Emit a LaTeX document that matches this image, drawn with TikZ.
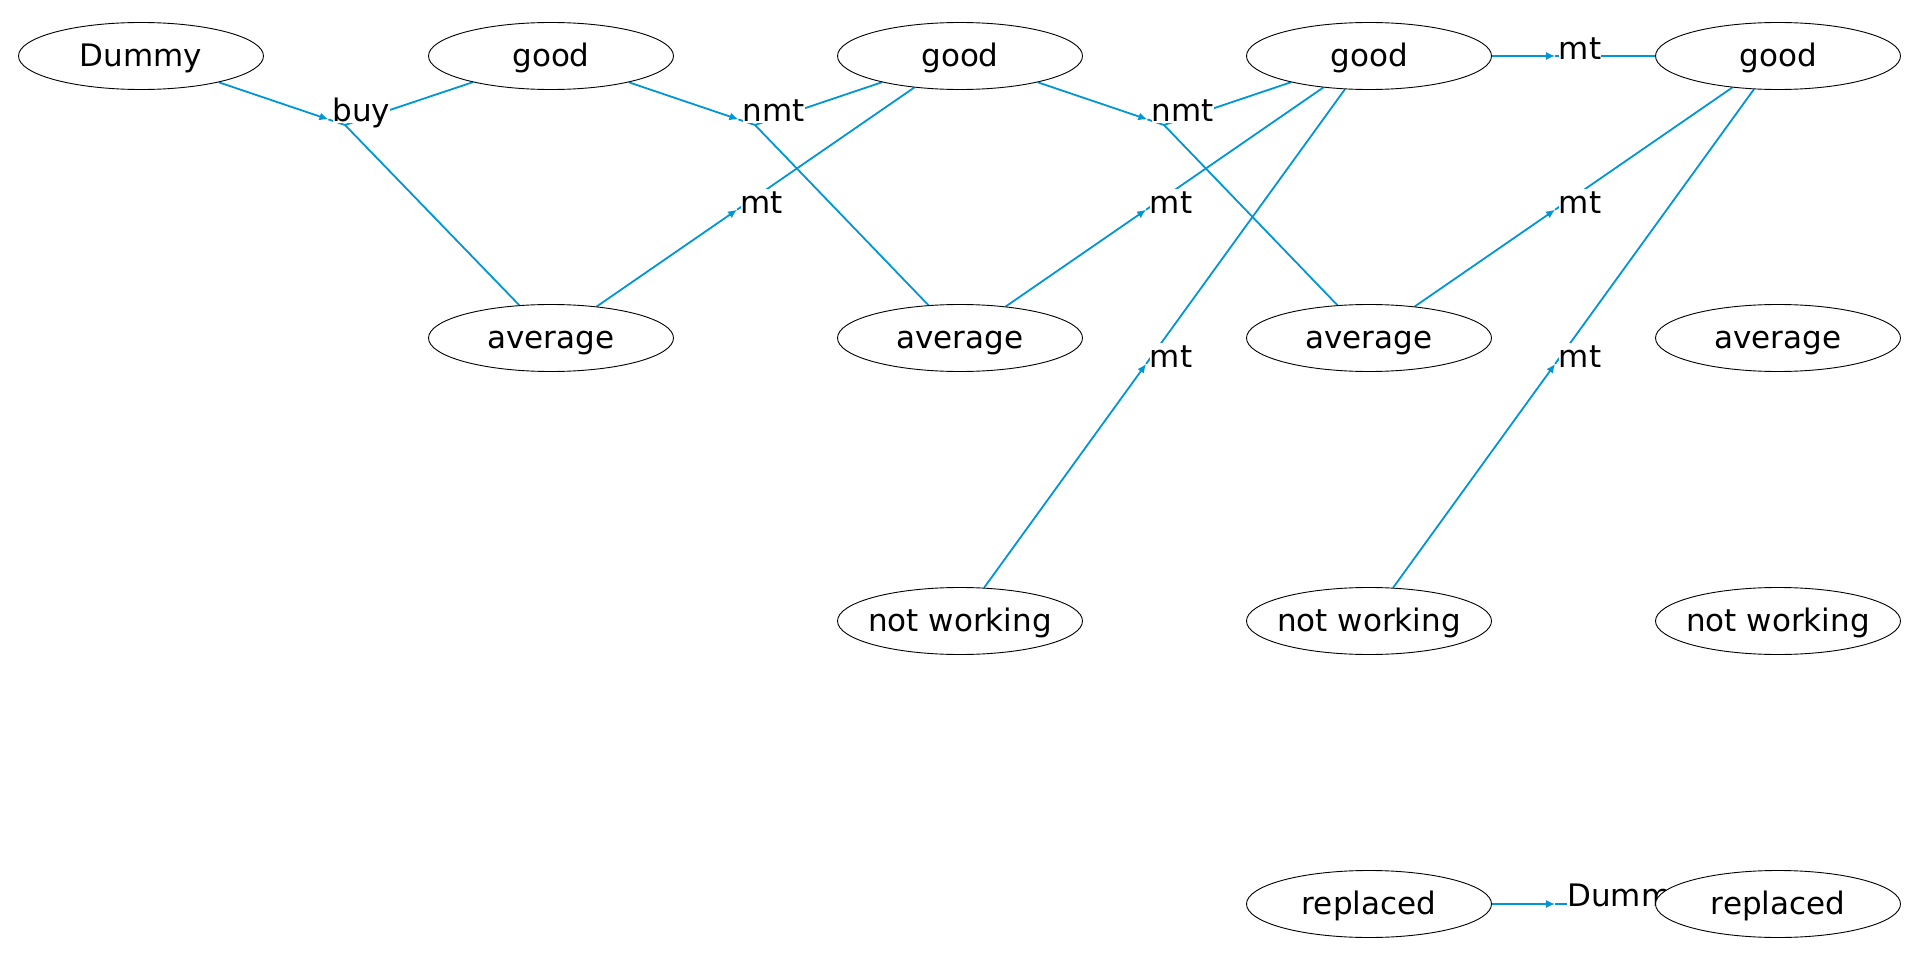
\documentclass[tikz,border=0pt]{standalone}
\usepackage{fontspec}
\setmainfont{DejaVu Sans}
\usetikzlibrary{calc,shapes.geometric,arrows.meta,backgrounds}
\definecolor{edgeblue}{RGB}{0,150,214}

% straight action edge: source, target, name of the arrow point, label, label offset
\newcommand\actedge[5]{%
  \coordinate (#3) at ($(#1)!0.455!(#2)$);
  \draw[arrowwire] (#1) -- (#3);
  \draw[wire] (#3) -- (#2);
  \node[act] (#3-lab) at ($(#3)+#5$) {#4};
}

\begin{document}
\begin{tikzpicture}[x=1pt,y=-1pt,
  state/.style={ellipse, draw=black, line width=0.9pt, fill=white,
    minimum width=245pt, minimum height=67pt, inner xsep=-12pt, inner ysep=0pt,
    text height=23pt, text depth=2pt,
    font=\fontsize{31}{37}\selectfont},
  wire/.style={draw=edgeblue, line width=1.8pt},
  arrowwire/.style={wire, -{Latex[length=9pt,width=8pt]}},
  act/.style={fill=white, inner sep=0pt, text height=24pt, text depth=1.5pt,
    anchor=base west, font=\fontsize{31}{37}\selectfont},
]
\useasboundingbox (0,0) rectangle (1920,960);

% states, one column per stage
\node[state] (d1) at (141,56) {Dummy};

\node[state] (g2) at (551,56) {good};
\node[state] (a2) at (551,338) {average};

\node[state] (g3) at (960,56) {good};
\node[state] (a3) at (960,338) {average};
\node[state] (n3) at (960,621) {not working};

\node[state] (g4) at (1369,56) {good};
\node[state] (a4) at (1369,338) {average};
\node[state] (n4) at (1369,621) {not working};
\node[state] (r4) at (1369,904) {replaced};

\node[state] (g5) at (1778,56) {good};
\node[state] (a5) at (1778,338) {average};
\node[state] (n5) at (1778,621) {not working};
\node[state] (r5) at (1778,904) {replaced};

\begin{pgfonlayer}{background}
  % branching actions: one source, two outcomes
  \coordinate (j1) at (345,125);
  \coordinate (j2) at (755,125);
  \coordinate (j3) at (1164,125);
  \coordinate (t1) at ($(j1)!17.5pt!(d1)$);
  \coordinate (t2) at ($(j2)!17.5pt!(g2)$);
  \coordinate (t3) at ($(j3)!17.5pt!(g3)$);

  \draw[arrowwire] (d1) -- (t1);
  \draw[wire] (t1) -- (j1) (j1) -- (g2) (j1) -- (a2);
  \draw[arrowwire] (g2) -- (t2);
  \draw[wire] (t2) -- (j2) (j2) -- (g3) (j2) -- (a3);
  \draw[arrowwire] (g3) -- (t3);
  \draw[wire] (t3) -- (j3) (j3) -- (g4) (j3) -- (a4);

  \node[act] (buy) at ($(t1)+(4,2)$) {buy};
  \node[act] (nmt1) at ($(t2)+(4,2)$) {nmt};
  \node[act] (nmt2) at ($(t3)+(4,2)$) {nmt};

  % single-outcome actions
  \actedge{a2}{g3}{m1}{mt}{(3.5,3.5)}
  \actedge{a3}{g4}{m2}{mt}{(3.5,3.5)}
  \actedge{n3}{g4}{m3}{mt}{(3.5,3.5)}
  \actedge{g4}{g5}{m4}{mt}{(3.5,3.5)}
  \actedge{a4}{g5}{m5}{mt}{(3.5,3.5)}
  \actedge{n4}{g5}{m6}{mt}{(3.5,3.5)}
  \actedge{r4}{r5}{dm}{Dummy}{(12,2)}
\end{pgfonlayer}
\end{tikzpicture}
\end{document}
